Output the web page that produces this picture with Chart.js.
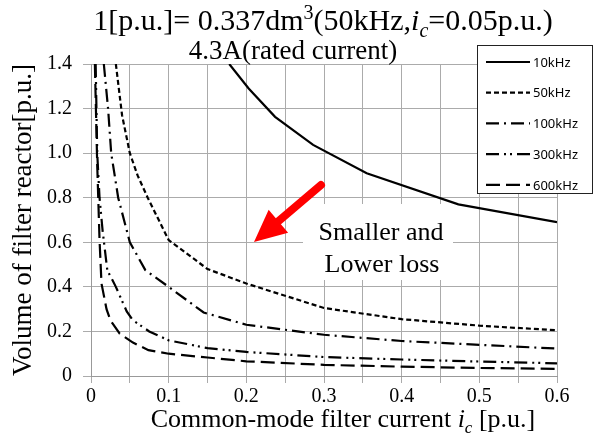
<!DOCTYPE html>
<html lang="en">
<head>
<meta charset="UTF-8">
<title>Volume of filter reactor</title>
<style>
  body { margin: 0; background: #fff; }
  canvas { display: block; }
</style>
</head>
<body>
<canvas id="chart" width="611" height="441"></canvas>
<script src="https://cdn.jsdelivr.net/npm/chart.js"></script>
<script>
// values: common-mode filter current ic [p.u.] -> volume [p.u.]
var ic10k  = [0.178, 0.203, 0.237, 0.286, 0.355, 0.473, 0.6];
var vol10k = [1.4, 1.29, 1.163, 1.037, 0.91, 0.77, 0.69];

var ic50k  = [0.032, 0.04, 0.05, 0.06, 0.073, 0.1, 0.15, 0.2, 0.3, 0.4, 0.5, 0.6];
var vol50k = [1.4, 1.17, 1.0, 0.9, 0.8, 0.61, 0.48, 0.415, 0.305, 0.255, 0.226, 0.205];

var ic100k  = [0.0165, 0.022, 0.026, 0.035, 0.05, 0.07, 0.1, 0.145, 0.2, 0.3, 0.4, 0.5, 0.6];
var vol100k = [1.4, 1.2, 1.0, 0.8, 0.6, 0.475, 0.4, 0.285, 0.23, 0.185, 0.157, 0.14, 0.123];

var ic300k  = [0.006, 0.008, 0.011, 0.015, 0.021, 0.032, 0.046, 0.054, 0.075, 0.1, 0.15, 0.2, 0.3, 0.4, 0.5, 0.6];
var vol300k = [1.4, 1.0, 0.8, 0.65, 0.475, 0.4, 0.29, 0.25, 0.2, 0.16, 0.125, 0.108, 0.085, 0.074, 0.065, 0.057];

var ic600k  = [0.005, 0.008, 0.011, 0.0135, 0.02, 0.025, 0.037, 0.054, 0.074, 0.1, 0.15, 0.2, 0.3, 0.4, 0.5, 0.6];
var vol600k = [1.4, 0.95, 0.61, 0.415, 0.3, 0.25, 0.19, 0.15, 0.116, 0.1, 0.083, 0.066, 0.05, 0.042, 0.036, 0.032];

var seriesNames = ['10kHz', '50kHz', '100kHz', '300kHz', '600kHz'];
var xTickText = ['0', '0.1', '0.2', '0.3', '0.4', '0.5', '0.6'];
var yTickText = ['0', '0.2', '0.4', '0.6', '0.8', '1.0', '1.2', '1.4'];

var serif = '"Liberation Serif", "Times New Roman", serif';

function pts(xs, ys) {
    return xs.map(function (x, i) { return { x: x, y: ys[i] }; });
}

// dash patterns: solid, short dash, dash-dot, dash-dot-dot, long dash
var dashes = [[], [5, 3], [13, 5, 2, 5], [13, 5, 2, 4, 2, 5], [14, 6]];
var allData = [pts(ic10k, vol10k), pts(ic50k, vol50k), pts(ic100k, vol100k), pts(ic300k, vol300k), pts(ic600k, vol600k)];

var datasets = allData.map(function (d, i) {
    return {
        label: seriesNames[i],
        data: d,
        showLine: true,
        borderColor: '#000',
        borderWidth: 2.2,
        borderDash: dashes[i],
        pointRadius: 0,
        tension: 0,
        fill: false
    };
});

// text with italic / subscript / superscript pieces
function richFont(kind, size) {
    if (kind === 'i') return 'italic ' + size + 'px ' + serif;
    if (kind === 'isub') return 'italic ' + Math.round(size * 0.65) + 'px ' + serif;
    if (kind === 'sup') return Math.round(size * 0.65) + 'px ' + serif;
    return size + 'px ' + serif;
}
function drawRich(ctx, parts, cx, y, size) {
    var w = 0;
    parts.forEach(function (p) { ctx.font = richFont(p[1], size); w += ctx.measureText(p[0]).width; });
    var x = cx - w / 2;
    parts.forEach(function (p) {
        ctx.font = richFont(p[1], size);
        var dy = p[1] === 'isub' ? size * 0.22 : (p[1] === 'sup' ? -size * 0.36 : 0);
        ctx.fillText(p[0], x, y + dy);
        x += ctx.measureText(p[0]).width;
    });
}

var decorations = {
    id: 'decorations',
    afterDraw: function (chart) {
        var ctx = chart.ctx;
        ctx.save();
        ctx.fillStyle = '#000';
        ctx.textBaseline = 'alphabetic';

        // titles
        drawRich(ctx, [['1[p.u.]= 0.337dm', 'n'], ['3', 'sup'], ['(50kHz,', 'n'], ['i', 'i'], ['c', 'isub'], ['=0.05p.u.)', 'n']], 323, 30, 30);
        drawRich(ctx, [['4.3A(rated current)', 'n']], 293, 59, 27);

        // x axis title
        drawRich(ctx, [['Common-mode filter current ', 'n'], ['i', 'i'], ['c', 'isub'], [' [p.u.]', 'n']], 343, 427, 26);

        // y axis title
        ctx.save();
        ctx.translate(31, 220);
        ctx.rotate(-Math.PI / 2);
        drawRich(ctx, [['Volume of filter reactor[p.u.]', 'n']], 0, 0, 27);
        ctx.restore();

        // annotation box
        ctx.fillStyle = '#fff';
        ctx.fillRect(303, 204, 150, 76);
        ctx.fillStyle = '#000';
        drawRich(ctx, [['Smaller and', 'n']], 381, 240, 26);
        drawRich(ctx, [['Lower loss', 'n']], 382, 272, 26);

        // red arrow
        var tx = 321, ty = 185, hx = 254, hy = 242;
        var ang = Math.atan2(hy - ty, hx - tx);
        var headLen = 32, headHalf = 15;
        var bx = hx - headLen * Math.cos(ang), by = hy - headLen * Math.sin(ang);
        ctx.strokeStyle = '#ff0000';
        ctx.fillStyle = '#ff0000';
        ctx.lineWidth = 8;
        ctx.lineCap = 'round';
        ctx.beginPath();
        ctx.moveTo(tx, ty);
        ctx.lineTo(bx, by);
        ctx.stroke();
        ctx.beginPath();
        ctx.moveTo(hx, hy);
        ctx.lineTo(bx + headHalf * Math.sin(ang), by - headHalf * Math.cos(ang));
        ctx.lineTo(bx - headHalf * Math.sin(ang), by + headHalf * Math.cos(ang));
        ctx.closePath();
        ctx.fill();

        // legend
        ctx.fillStyle = '#fff';
        ctx.fillRect(477, 45, 115, 148);
        ctx.strokeStyle = '#222';
        ctx.lineWidth = 1;
        ctx.strokeRect(477.5, 45.5, 115, 148);
        ctx.font = '13px "Noto Sans", "Open Sans", sans-serif';
        ctx.textBaseline = 'middle';
        chart.data.datasets.forEach(function (ds, i) {
            var y = 62 + i * 30.7;
            ctx.strokeStyle = '#000';
            ctx.lineWidth = 2.2;
            ctx.lineCap = 'butt';
            ctx.setLineDash(ds.borderDash);
            ctx.beginPath();
            ctx.moveTo(486, y);
            ctx.lineTo(530, y);
            ctx.stroke();
            ctx.setLineDash([]);
            ctx.fillStyle = '#000';
            ctx.fillText(ds.label, 533, y + 1);
        });
        ctx.restore();
    }
};

new Chart(document.getElementById('chart').getContext('2d'), {
    type: 'scatter',
    data: { datasets: datasets },
    options: {
        responsive: false,
        animation: false,
        devicePixelRatio: 1,
        layout: { padding: { top: 64, right: 54, left: 0, bottom: 0 } },
        plugins: {
            legend: { display: false },
            tooltip: { enabled: false }
        },
        scales: {
            x: {
                type: 'linear',
                min: 0,
                max: 0.6,
                afterFit: function (s) { s.height = 65; s.paddingLeft = 0; s.paddingRight = 0; },
                ticks: {
                    stepSize: 0.05,
                    autoSkip: false,
                    maxRotation: 0,
                    padding: 2,
                    color: '#000',
                    font: { family: serif, size: 20 },
                    callback: function (v) {
                        var r = Math.round(v * 100);
                        return r % 10 === 0 ? xTickText[r / 10] : '';
                    }
                },
                grid: { color: '#ababab', lineWidth: 1, tickLength: 7 },
                border: { color: '#999' }
            },
            y: {
                type: 'linear',
                min: 0,
                max: 1.4,
                afterFit: function (s) { s.width = 91; s.paddingTop = 0; s.paddingBottom = 0; },
                ticks: {
                    stepSize: 0.2,
                    padding: 11,
                    color: '#000',
                    font: { family: serif, size: 20 },
                    callback: function (v) { return yTickText[Math.round(v * 5)]; }
                },
                grid: { color: '#ababab', lineWidth: 1, tickLength: 8 },
                border: { color: '#999' }
            }
        }
    },
    plugins: [decorations]
});
</script>
</body>
</html>
